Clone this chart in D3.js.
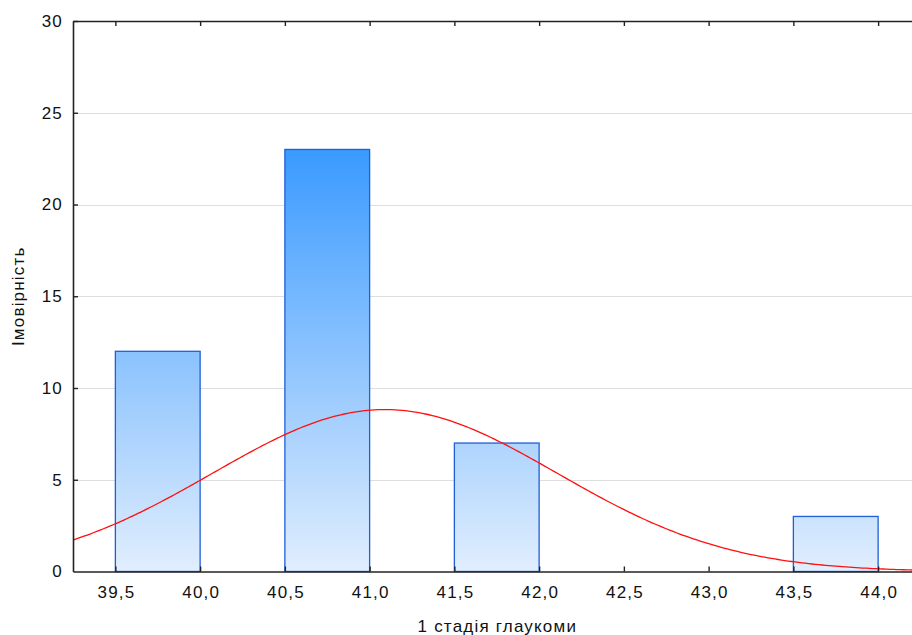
<!DOCTYPE html>
<html>
<head>
<meta charset="utf-8">
<script src="https://cdn.jsdelivr.net/npm/d3@7/dist/d3.min.js"></script>
<style>
  html, body { margin: 0; padding: 0; background: #fff; }
  svg { display: block; font-family: "Liberation Sans", Arial, sans-serif; }
</style>
</head>
<body>
<svg id="chart" width="912" height="635"></svg>
<script>
// ---- data ----
const binStarts = [39.5, 40.5, 41.5, 43.5];
const binEnds   = [40.0, 41.0, 42.0, 44.0];
const counts    = [12, 23, 7, 3];
const xTicks = [39.5, 40.0, 40.5, 41.0, 41.5, 42.0, 42.5, 43.0, 43.5, 44.0];
const yTicks = [0, 5, 10, 15, 20, 25, 30];
// fitted normal curve parameters
const fitMean = 41.09;
const fitSd = 1.017;
const fitN = 45;
const fitBinWidth = 0.5;
const xLabel = "1 стадія глаукоми";
const yLabel = "Імовірність";

(function () {
const svg = d3.select("#chart");
const pL = 73, pR = 920.5, pT = 21, pB = 571.5;
const FS = 17, LS = 1.2;
const x = d3.scaleLinear().domain([39.25, 44.25]).range([pL, pR]);
const y = d3.scaleLinear().domain([0, 30]).range([pB, pT]);

const defs = svg.append("defs");
const grad = defs.append("linearGradient").attr("id", "barGrad")
  .attr("gradientUnits", "userSpaceOnUse")
  .attr("x1", 0).attr("x2", 0).attr("y1", y(23)).attr("y2", y(0));
grad.append("stop").attr("offset", "0%").attr("stop-color", "#3a9aff");
grad.append("stop").attr("offset", "100%").attr("stop-color", "#e1eefd");
defs.append("clipPath").attr("id", "plotClip").append("rect")
  .attr("x", pL).attr("y", pT).attr("width", pR - pL).attr("height", pB - pT);

// gridlines
svg.append("g").selectAll("line").data(yTicks.filter(t => t > 0 && t < 30)).join("line")
  .attr("x1", pL).attr("x2", pR)
  .attr("y1", d => Math.round(y(d)) + 0.5).attr("y2", d => Math.round(y(d)) + 0.5)
  .attr("stroke", "#dedede").attr("stroke-width", 1);

// bars
const bars = binStarts.map((s, i) => ({ s, e: binEnds[i], c: counts[i] }));
svg.append("g").selectAll("rect").data(bars).join("rect")
  .attr("x", d => x(d.s)).attr("width", d => x(d.e) - x(d.s))
  .attr("y", d => y(d.c)).attr("height", d => y(0) - y(d.c))
  .attr("fill", "url(#barGrad)")
  .attr("stroke", "#1f5fd8").attr("stroke-width", 1.3);

// normal curve
const pts = d3.range(39.25, 44.2501, 0.02).map(v => [v,
  fitN * fitBinWidth / (fitSd * Math.sqrt(2 * Math.PI)) * Math.exp(-0.5 * Math.pow((v - fitMean) / fitSd, 2))]);
svg.append("path").datum(pts)
  .attr("clip-path", "url(#plotClip)")
  .attr("d", d3.line().x(d => x(d[0])).y(d => y(d[1])).curve(d3.curveBasis))
  .attr("fill", "none").attr("stroke", "#ff1010").attr("stroke-width", 1.3);

// axes
const axisColor = "#222";
const fmt = d => d3.format(".1f")(d).replace(".", ",");
const xb = svg.append("g").attr("transform", `translate(0,${pB})`)
  .call(d3.axisBottom(x).tickValues(xTicks).tickSize(-5).tickSizeOuter(0).tickPadding(14).tickFormat(fmt));
const xt = svg.append("g").attr("transform", `translate(0,${pT})`)
  .call(d3.axisTop(x).tickValues(xTicks).tickSize(-5).tickSizeOuter(0).tickFormat(""));
const yl = svg.append("g").attr("transform", `translate(${pL},0)`)
  .call(d3.axisLeft(y).tickValues(yTicks).tickSize(-5).tickSizeOuter(0).tickPadding(10).tickFormat(d3.format("d")));
[xb, xt, yl].forEach(g => {
  g.select(".domain").attr("stroke", axisColor).attr("stroke-width", 1.6);
  g.selectAll(".tick line").attr("stroke", axisColor).attr("stroke-width", 1.4);
  g.selectAll("text").attr("fill", "#111").attr("font-size", FS).attr("letter-spacing", LS)
    .attr("font-family", "'Liberation Sans', Arial, sans-serif");
});
xb.selectAll("text").attr("dx", LS / 2);
yl.selectAll(".tick").filter(d => d === 0).select("line").remove();

// axis titles
svg.append("text").attr("x", (pL + pR) / 2 + LS / 2).attr("y", 632)
  .attr("text-anchor", "middle").attr("font-size", FS).attr("letter-spacing", LS)
  .attr("fill", "#111").text(xLabel);
svg.append("text").attr("transform", `translate(24,${(pT + pB) / 2}) rotate(-90)`)
  .attr("text-anchor", "middle").attr("font-size", FS).attr("letter-spacing", LS)
  .attr("fill", "#111").text(yLabel);
})();
</script>
</body>
</html>
